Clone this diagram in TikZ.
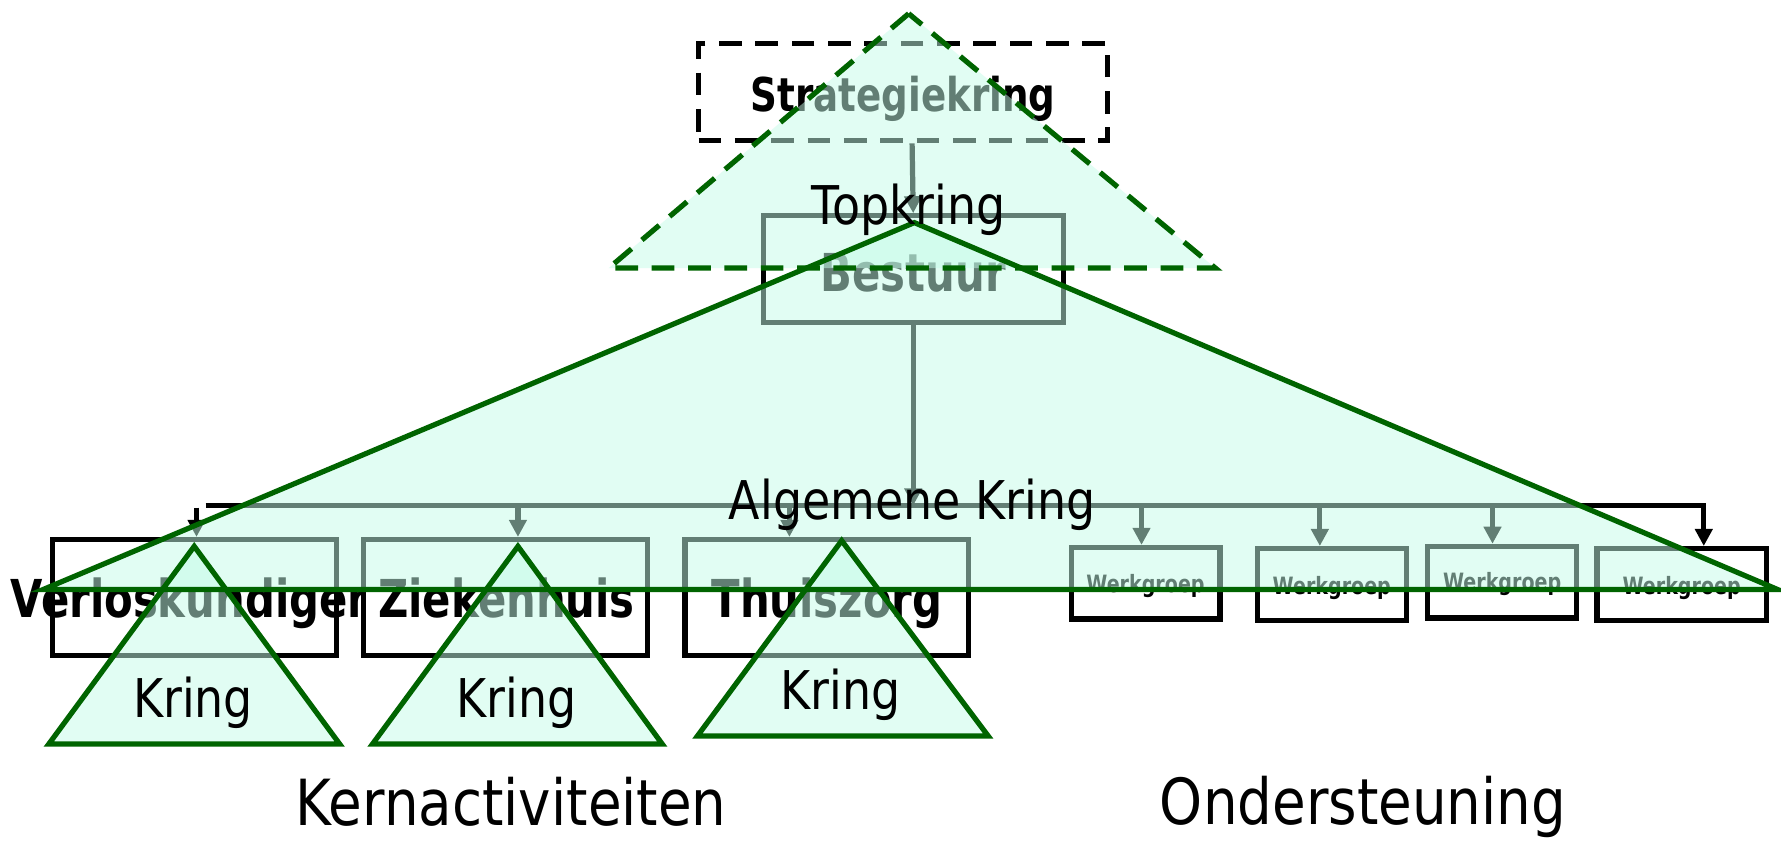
\documentclass[tikz,border=0pt]{standalone}
\usepackage{fontspec}
\setmainfont{DejaVu Sans}
\newfontfamily\rf[FakeStretch=0.86]{DejaVu Sans}
\newfontfamily\bfnt[FakeStretch=0.8]{DejaVu Sans Bold}
\usetikzlibrary{arrows.meta}
\definecolor{kgreen}{RGB}{0,100,0}
\definecolor{mint}{RGB}{196,252,232}
\begin{document}
\begin{tikzpicture}[x=1pt,y=-1pt,
  box/.style={draw=black,line width=4.6pt,fill=white,inner sep=0pt,rectangle},
  dbox/.style={draw=black,line width=4.6pt,inner sep=0pt,rectangle,dash pattern=on 20pt off 12pt},
  conn/.style={draw=black,line width=4.6pt,-{Triangle[length=15pt,width=15pt]}},
  trifill/.style={fill=mint,fill opacity=0.5},
  triline/.style={draw=kgreen,line width=4.6pt,line join=miter},
  trilinedash/.style={draw=kgreen,line width=4.6pt,dash pattern=on 20pt off 12pt},
  blbl/.style={anchor=base,inner sep=0pt,font=\bfnt\fontsize{46}{50}\selectfont},
  wlbl/.style={anchor=base,inner sep=0pt,font=\bfnt\fontsize{21}{24}\selectfont},
  rlbl/.style={anchor=base,inner sep=0pt,font=\rf\fontsize{47}{52}\selectfont},
  biglbl/.style={anchor=base,inner sep=0pt,font=\rf\fontsize{56}{60}\selectfont}]
\useasboundingbox[fill=white] (0,0) rectangle (1568,740.4);

% boxes and their texts
\node[dbox,minimum width=360pt,minimum height=86pt] (S) at (795,81) {};
\node[anchor=base,inner sep=0pt,font=\bfnt\fontsize{41}{45}\selectfont] (St) at (795,98) {Strategiekring};
\node[box,minimum width=264pt,minimum height=94pt] (B) at (804,237) {};
\node[blbl] (Bt) at (804,257) {Bestuur};

\node[box,minimum width=250pt,minimum height=102pt] (V) at (171,526) {};
\node[blbl] (Vt) at (171,544) {\makebox[0pt]{Verloskundigen}};
\node[box,minimum width=250pt,minimum height=102pt] (Z) at (445,526) {};
\node[blbl] (Zt) at (446,544) {\makebox[0pt]{Ziekenhuis}};
\node[box,minimum width=250pt,minimum height=102pt] (T) at (728,526) {};
\node[blbl] (Tt) at (728,544) {\makebox[0pt]{Thuiszorg}};

\node[box,minimum width=131pt,minimum height=63pt] (W1) at (1008.5,513.5) {};
\node[wlbl] (W1t) at (1008.5,522) {Werkgroep};
\node[box,minimum width=131pt,minimum height=63pt] (W2) at (1172.5,514.5) {};
\node[wlbl] (W2t) at (1172.5,523) {Werkgroep};
\node[box,minimum width=131pt,minimum height=63pt] (W3) at (1322.5,512.5) {};
\node[wlbl] (W3t) at (1322.5,520) {Werkgroep};
\node[box,minimum width=149pt,minimum height=63pt] (W4) at (1480.5,514.5) {};
\node[wlbl] (W4t) at (1480.5,523) {Werkgroep};

% connectors
\coordinate (busL) at (173,445);
\coordinate (busR) at (1498,445);
\coordinate (aV) at ([xshift=2pt]V.north);
\coordinate (aZ) at ([xshift=11pt]Z.north);
\coordinate (aT) at ([xshift=-33pt]T.north);
\coordinate (aW1) at ([xshift=-3.5pt]W1.north);
\coordinate (aW2) at ([xshift=-10.5pt]W2.north);
\coordinate (aW3) at ([xshift=-8.5pt]W3.north);
\coordinate (aW4) at ([xshift=19.5pt]W4.north);

\draw[conn] ([xshift=8pt]S.south) -- (B.north);
\draw[conn] (B.south) -- (B.south |- busL);
\draw[line width=4.6pt] ([xshift=8pt]busL) -- (busR);
\draw[conn] ([yshift=-2pt]aV |- busL) -- (aV);
\draw[conn] (aZ |- busL) -- (aZ);
\draw[conn] (aT |- busL) -- (aT);
\draw[conn] (aW1 |- busL) -- (aW1);
\draw[conn] (aW2 |- busL) -- (aW2);
\draw[conn] (aW3 |- busL) -- (aW3);
\draw[conn] ([xshift=-2pt]busR) -- (aW4 |- busR) -- (aW4);

% triangles: fills
\fill[trifill] (800,12) -- (536,236) -- (1070,236) -- cycle;
\fill[trifill] (805,196) -- (38,519) -- (1565,519) -- cycle;
\fill[trifill] (171,481) -- (43,655) -- (299,655) -- cycle;
\fill[trifill] (456,481) -- (328,655) -- (583,655) -- cycle;
\fill[trifill] (741,476) -- (614,648) -- (870,648) -- cycle;
% triangles: outlines
\draw[trilinedash] (800,12) -- (536,236) -- (1070,236) -- cycle;
\draw[triline] (805,196) -- (38,519) -- (1565,519) -- cycle;
\draw[triline] (171,481) -- (43,655) -- (299,655) -- cycle;
\draw[triline] (456,481) -- (328,655) -- (583,655) -- cycle;
\draw[triline] (741,476) -- (614,648) -- (870,648) -- cycle;

% labels
\node[rlbl] (top) at (800,198) {Topkring};
\node[rlbl] (alg) at (803,457) {Algemene Kring};
\node[rlbl] (k1) at (170,632) {Kring};
\node[rlbl] (k2) at (455,632) {Kring};
\node[rlbl] (k3) at (740,625) {Kring};
\node[biglbl] (kern) at (450,727) {Kernactiviteiten};
\node[biglbl] (ond) at (1200,726) {Ondersteuning};
\end{tikzpicture}
\end{document}
